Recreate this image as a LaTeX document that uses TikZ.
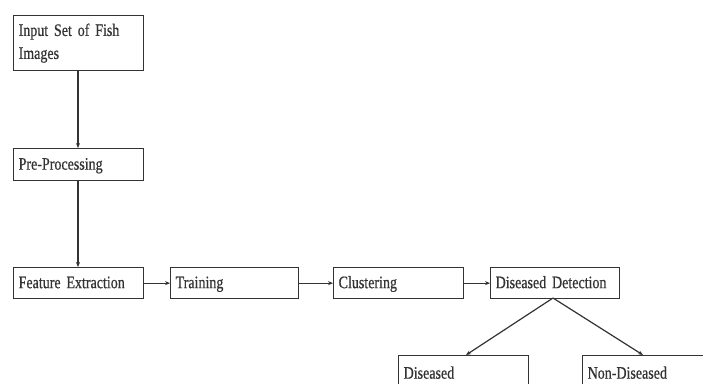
\documentclass[tikz,border=0pt]{standalone}
\usepackage{fontspec}
\setmainfont{Liberation Serif}[FakeStretch=0.8,FakeBold=0.6,WordSpace=0.55]
\usetikzlibrary{arrows.meta}
\newcommand\myboxfont{\fontsize{17.5}{23}\selectfont\spaceskip=2.8pt plus 0.5pt minus 0.5pt\relax}
\begin{document}
\begin{tikzpicture}[x=1pt,y=-1pt,
  basebox/.style={draw=black!80, line width=1.3pt, rectangle, anchor=north west,
    inner xsep=5pt, align=left, text=black!80, font=\myboxfont},
  stage/.style={basebox, inner ysep=0pt, text height=14pt, text depth=4pt},
  link/.style={draw=black!80, line width=1.2pt, -{Stealth[length=5pt,width=4pt]}}
]
\clip (0,0) rectangle (703,383);
\fill[white] (0,0) rectangle (703,383);
\node[basebox, text width=120pt, minimum height=55pt, inner ysep=3pt] (input) at (13,15) {Input Set of Fish\\Images};
\node[stage, text width=120pt, minimum height=32pt] (pre) at (13,148) {Pre-Processing};
\node[stage, text width=120pt, minimum height=31pt] (feat) at (13,267) {Feature Extraction};
\node[stage, text width=118pt, minimum height=31pt] (train) at (170,267) {Training};
\node[stage, text width=120pt, minimum height=31pt] (clust) at (333,267) {Clustering};
\node[stage, text width=119pt, minimum height=31pt] (detect) at (490,267) {Diseased Detection};
\node[stage, text width=120pt, minimum height=36pt] (dis) at (398,355) {Diseased};
\node[stage, text width=140pt, minimum height=36pt] (non) at (582,355) {Non-Diseased};
\coordinate (top) at (553,298);
\coordinate (disT) at (466,355);
\coordinate (nonT) at (643,355);
\draw[link] (input.south -| 78,0) -- (pre.north -| 78,0);
\draw[link] (pre.south -| 78,0) -- (feat.north -| 78,0);
\draw[link] (feat) -- (train);
\draw[link] (train) -- (clust);
\draw[link] (clust) -- (detect);
\draw[link] (top) -- (disT);
\draw[link] (top) -- (nonT);
\end{tikzpicture}
\end{document}
